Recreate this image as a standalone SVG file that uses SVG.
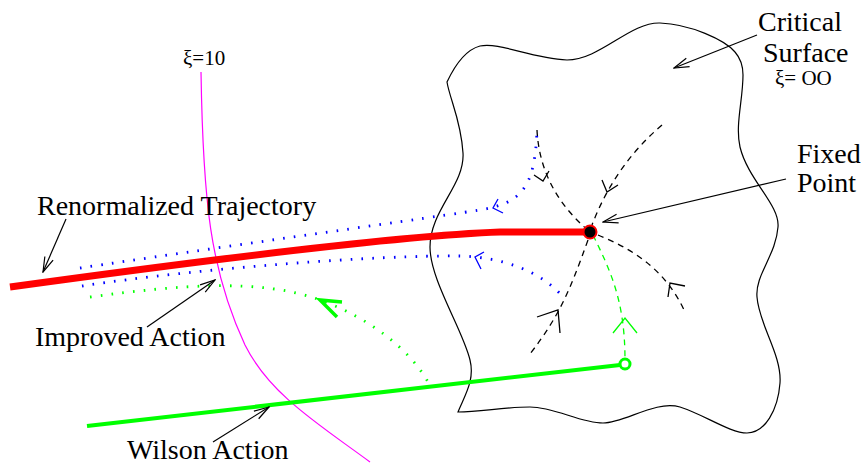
<svg xmlns="http://www.w3.org/2000/svg" width="867" height="464" viewBox="0 0 867 464">
<defs>
<marker id="ah" markerUnits="userSpaceOnUse" viewBox="-16 -6 17 12" markerWidth="17" markerHeight="12" refX="0" refY="0" orient="auto">
<path d="M-15,-4.5 L0,0 L-15,4.5" fill="none" stroke="#000" stroke-width="1.2"/>
</marker>
</defs>
<style>
.lbl{font-size:28px}
.dash{fill:none;stroke:#000;stroke-width:1.3;stroke-dasharray:6 5}
.gdash{fill:none;stroke:#00ff00;stroke-width:1.3;stroke-dasharray:6 5}
.bdot{fill:none;stroke:#0000ff;stroke-width:2.8;stroke-dasharray:1.6 9.2}
.gdot{fill:none;stroke:#00ff00;stroke-width:2.8;stroke-dasharray:1.6 9.2}
.head{fill:none;stroke:#000;stroke-width:1.3}
.lead{fill:none;stroke:#000;stroke-width:1.2}
</style>
<g id="critical-surface">
<path d="M447,82 C455,65 465,50 480,46 C500,42 530,58 567,60 C600,60 630,22 660,23 C690,24 725,40 735,52 C742,60 743,68 743,75 C743,100 735,125 740,147 C748,180 780,205 778,227 C776,255 755,275 757,297 C759,325 782,355 780,383 C778,410 765,433 747,433 C730,433 705,415 680,407 C655,400 625,423 603,423 C580,423 555,407 530,407 C505,407 480,412 458,412 C465,395 475,380 470,360 C463,330 430,280 430,247 C430,210 465,185 463,153 C461,120 450,100 447,82 Z" fill="none" stroke="#000" stroke-width="1.2"/>
</g>
<g id="xi10-line">
<path d="M201,72 C203,200 210,270 245,345 C270,395 320,425 370,462" fill="none" stroke="#ff00ff" stroke-width="1.2"/>
</g>
<g id="connectors">
<path class="dash" d="M537,130 Q540,190 590,232"/>
<polyline class="head" points="534,175 543,181 549,171"/>
<path class="dash" d="M662,125 Q615,165 592,225"/>
<polyline class="head" points="602,180 607,192 618,185"/>
<path class="dash" d="M598,235 C630,248 665,268 685,312"/>
<polyline class="head" points="668,297 670,283 685,286"/>
<path class="dash" d="M588,240 C570,290 560,315 530,354"/>
<polyline class="head" points="537,317 558,310 560,333"/>
<path class="gdash" d="M593,235 C610,270 625,300 625,360"/>
<polyline points="613,333 625,318 637,333" fill="none" stroke="#00ff00" stroke-width="1.3"/>
<path class="bdot" d="M80,268 C200,250 400,222 480,210 C520,203 535,190 537,130"/>
<polyline points="498,199 493,208 503,213" fill="none" stroke="#0000ff" stroke-width="1.3"/>
<path class="bdot" d="M82,286 C200,268 380,255 460,256 C500,257 540,270 563,297"/>
<polyline points="484,252 475,257 481,269" fill="none" stroke="#0000ff" stroke-width="1.3"/>
<path class="gdot" d="M90,297 C180,285 260,278 320,300 C370,318 410,350 428,382"/>
<polyline points="342,302 320,300 337,317" fill="none" stroke="#00ff00" stroke-width="3.5"/>
<path d="M87,426 L620,365" fill="none" stroke="#00ff00" stroke-width="4"/>
<path d="M10,287 Q380,236 500,232 L588,232" fill="none" stroke="#ff0000" stroke-width="7"/>
<path class="lead" d="M66,219 L43,272" marker-end="url(#ah)"/>
<path class="lead" d="M147,327 L215,280" marker-end="url(#ah)"/>
<path class="lead" d="M213,442 L269,407" marker-end="url(#ah)"/>
<path class="lead" d="M757,35 L674,68" marker-end="url(#ah)"/>
<path class="lead" d="M786,179 L603,222" marker-end="url(#ah)"/>
</g>
<g id="wilson-start">
<circle cx="625" cy="364" r="5" fill="#fff" stroke="#00ff00" stroke-width="3"/>
</g>
<g id="fixed-point">
<circle cx="590" cy="232" r="6.5" fill="#000" stroke="#ff0000" stroke-width="2"/>
</g>
<g id="labels" font-family="'Liberation Serif', 'DejaVu Serif', serif" fill="#000">
<text class="lbl" x="37" y="215">Renormalized Trajectory</text>
<text class="lbl" x="35" y="346">Improved Action</text>
<text class="lbl" x="127" y="459">Wilson Action</text>
<text class="lbl" x="758" y="31">Critical</text>
<text class="lbl" x="763" y="62">Surface</text>
<text x="775" y="85" font-size="21">ξ= OO</text>
<text class="lbl" x="797" y="163">Fixed</text>
<text class="lbl" x="797" y="192">Point</text>
<text x="183" y="65" font-size="21">ξ=10</text>
</g>
</svg>
